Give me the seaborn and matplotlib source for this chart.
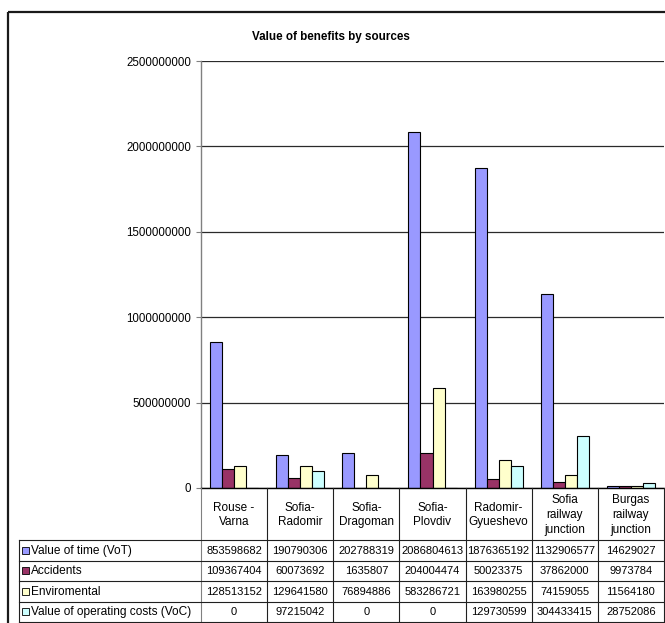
import matplotlib
matplotlib.use("Agg")
import matplotlib.pyplot as plt
from matplotlib.patches import Rectangle
from matplotlib.ticker import FuncFormatter
import seaborn as sns
import pandas as pd
import numpy as np

# ---------------- data ----------------
categories = ["Rouse -\nVarna", "Sofia-\nRadomir", "Sofia-\nDragoman", "Sofia-\nPlovdiv",
              "Radomir-\nGyueshevo", "Sofia\nrailway\njunction", "Burgas\nrailway\njunction"]
series_names = ["Value of time (VoT)", "Accidents", "Enviromental",
                "Value of operating costs (VoC)"]
value_of_time = [853598682, 190790306, 202788319, 2086804613, 1876365192, 1132906577, 14629027]
accidents = [109367404, 60073692, 1635807, 204004474, 50023375, 37862000, 9973784]
enviromental = [128513152, 129641580, 76894886, 583286721, 163980255, 74159055, 11564180]
operating_costs = [0, 97215042, 0, 0, 129730599, 304433415, 28752086]
series_colors = ["#9999FF", "#993366", "#FFFFCC", "#CCFFFF"]
yticks = [0, 500000000, 1000000000, 1500000000, 2000000000, 2500000000]
title = "Value of benefits by sources"

series_values = [value_of_time, accidents, enviromental, operating_costs]

rows = []
for name, vals in zip(series_names, series_values):
    for cat, v in zip(categories, vals):
        rows.append({"category": cat, "series": name, "value": v})
df = pd.DataFrame(rows)

# ---------------- layout ----------------
plt.rcParams["font.family"] = ["Liberation Sans", "DejaVu Sans"]
FS_NUM = 8.0
FS_TICK = 8.3
FS_ROW = 8.6
FS_CAT = 8.5
W, H = 665, 623
fig = plt.figure(figsize=(W / 100, H / 100), dpi=100)
fig.patch.set_facecolor("white")

ax_l, ax_r, ax_t, ax_b = 201, 664, 61, 488
ax = fig.add_axes([ax_l / W, 1 - ax_b / H, (ax_r - ax_l) / W, (ax_b - ax_t) / H])

sns.barplot(data=df, x="category", y="value", hue="series",
            order=categories, hue_order=series_names, palette=series_colors,
            saturation=1, width=1 - 1.5 / 5.5, gap=0, edgecolor="black",
            linewidth=0.8, errorbar=None, legend=False, ax=ax)

ax.set_xlim(-0.5, len(categories) - 0.5)
ax.set_ylim(yticks[0], yticks[-1])
ax.set_yticks(yticks)
ax.yaxis.set_major_formatter(FuncFormatter(lambda v, p: f"{int(round(v))}"))
ax.set_xticks([])
ax.set_xlabel("")
ax.set_ylabel("")
ax.set_axisbelow(True)
ax.yaxis.grid(True, color="#2a2a2a", linewidth=0.9)
for s in ["top", "right"]:
    ax.spines[s].set_visible(False)
ax.spines["left"].set_color("#808080")
ax.spines["left"].set_linewidth(1.0)
ax.spines["bottom"].set_color("black")
ax.spines["bottom"].set_linewidth(1.0)
ax.tick_params(axis="y", direction="out", length=3.5, width=0.8, color="#808080",
               labelsize=FS_TICK, pad=3.5)
ax.set_facecolor("white")

# ---------------- overlay (frame, title, data table) ----------------
ov = fig.add_axes([0, 0, 1, 1])
ov.set_xlim(0, W)
ov.set_ylim(H, 0)
ov.axis("off")
ov.patch.set_alpha(0)

# outer frame
ov.plot([8, 8], [12, H + 5], color="#1a1a1a", lw=1.6, solid_capstyle="butt")
ov.plot([8, W + 5], [12, 12], color="#1a1a1a", lw=1.6, solid_capstyle="butt")

ov.text(331, 37, title, ha="center", va="center", fontsize=8.4, fontweight="bold")

ncat = len(categories)
colw = (ax_r - ax_l) / ncat
edges = [ax_l + k * colw for k in range(ncat + 1)]
centers = [ax_l + (k + 0.5) * colw for k in range(ncat)]
tab_top, tab_bot, tab_left = 540, 622, 19
rowh = (tab_bot - tab_top) / len(series_names)
lc = "#202020"

for k, x in enumerate(edges):
    ov.plot([x, x], [ax_b, tab_bot], color=("#808080" if k == 0 else lc), lw=0.8)
ov.plot([tab_left, tab_left], [tab_top, tab_bot], color=lc, lw=0.8)
for i in range(len(series_names) + 1):
    y = tab_top + i * rowh
    ov.plot([tab_left, ax_r], [y, y], color=lc, lw=0.8)

for cx, lab in zip(centers, categories):
    ov.text(cx, (ax_b + tab_top) / 2 + 1, lab, ha="center", va="center",
            fontsize=FS_CAT, linespacing=1.3)

for i, (name, vals, col) in enumerate(zip(series_names, series_values, series_colors)):
    yc = tab_top + (i + 0.5) * rowh
    ov.add_patch(Rectangle((22, yc - 3.5), 7, 7, facecolor=col, edgecolor="black", lw=0.6))
    ov.text(31, yc + 0.5, name, ha="left", va="center", fontsize=FS_ROW)
    for cx, v in zip(centers, vals):
        ov.text(cx, yc + 0.5, f"{v}", ha="center", va="center", fontsize=FS_NUM)

fig.savefig("out.png", dpi=100)
